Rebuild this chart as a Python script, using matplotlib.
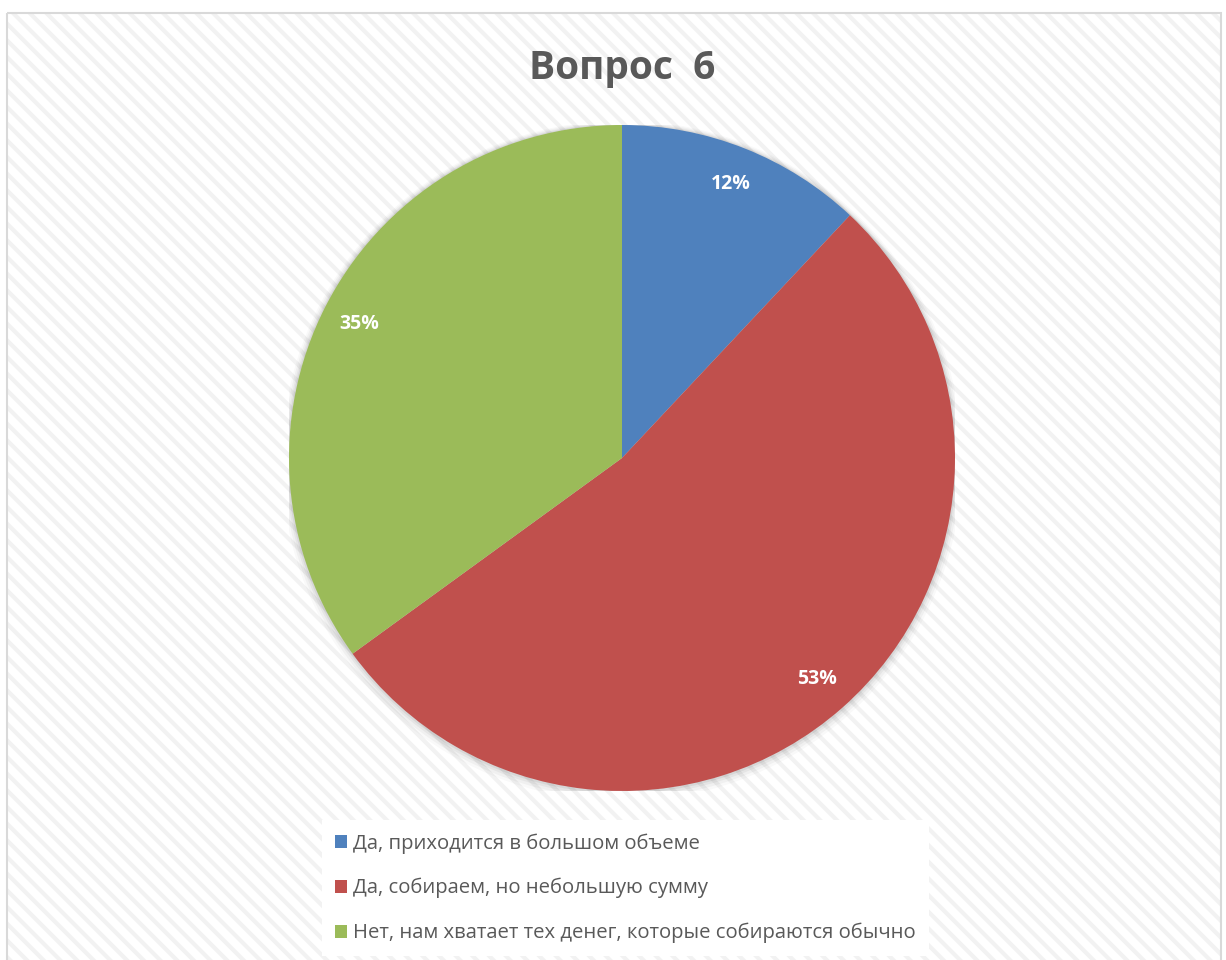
import matplotlib
matplotlib.use("Agg")
import matplotlib.pyplot as plt
from matplotlib.patches import Rectangle, Patch, Circle

categories = ["Да, приходится в большом объеме",
              "Да, собираем, но небольшую сумму",
              "Нет, нам хватает тех денег, которые собираются обычно"]
values = [12, 53, 35]
colors = ["#4F81BD", "#C0504D", "#9BBB59"]
title = "Вопрос  6"

W, H = 1226, 960
plt.rcParams['font.family'] = ['Open Sans', 'DejaVu Sans']
plt.rcParams['hatch.linewidth'] = 3.0

fig = plt.figure(figsize=(W/100, H/100), dpi=100)
fig.patch.set_facecolor('white')

# background axes for chart area with diagonal stripes
bax = fig.add_axes([0, 0, 1, 1], zorder=-5)
bax.set_xlim(0, W)
bax.set_ylim(H, 0)
bax.axis('off')
bax.add_patch(Rectangle((7, 13), 1221 - 7, H, facecolor='white', edgecolor='#F2F2F2',
                        hatch='\\\\', linewidth=0))
bax.add_patch(Rectangle((7, 13), 1221 - 7, H + 10, facecolor='none', edgecolor='#D9D9D9',
                        linewidth=1.5))

cx, cy, r = 622, 458, 333
ax = fig.add_axes([(cx-r)/W, (H-cy-r)/H, 2*r/W, 2*r/H])
ax.axis('off')

# soft shadow around the pie
for off, a in [(0.022, 0.025), (0.016, 0.035), (0.010, 0.045), (0.005, 0.06)]:
    ax.add_patch(Circle((0.0, -off * 0.4), 1.0 + off, facecolor='black', alpha=a,
                        edgecolor='none', zorder=0))

wedges, texts, autotexts = ax.pie(values, colors=colors, startangle=90, counterclock=False,
                                  radius=1.0, autopct='%1.0f%%', pctdistance=0.885,
                                  wedgeprops=dict(linewidth=0),
                                  textprops=dict(color='white', fontsize=14, fontweight='bold'))
for w in wedges:
    w.set_zorder(2)
for t in autotexts:
    t.set_zorder(3)
ax.set_xlim(-1, 1)
ax.set_ylim(-1, 1)
ax.set_aspect('equal')

fig.text(622/W, 1-68/H, title, ha='center', va='center', fontsize=28,
         fontweight='bold', color='#595959')

handles = [Patch(facecolor=c, edgecolor='none') for c in colors]
leg = fig.legend(handles, categories, loc='upper left',
                 bbox_to_anchor=(322/W, 1-820/H), frameon=True,
                 fontsize=14.6, labelspacing=1.2, handlelength=0.6, handleheight=0.6,
                 handletextpad=0.3, borderpad=0.65, borderaxespad=0)
leg.get_frame().set_facecolor('white')
leg.get_frame().set_edgecolor('none')
leg.get_frame().set_alpha(1)
leg.get_frame().set_boxstyle('square', pad=0)
for t in leg.get_texts():
    t.set_color('#595959')

fig.savefig('out.png', dpi=100)
